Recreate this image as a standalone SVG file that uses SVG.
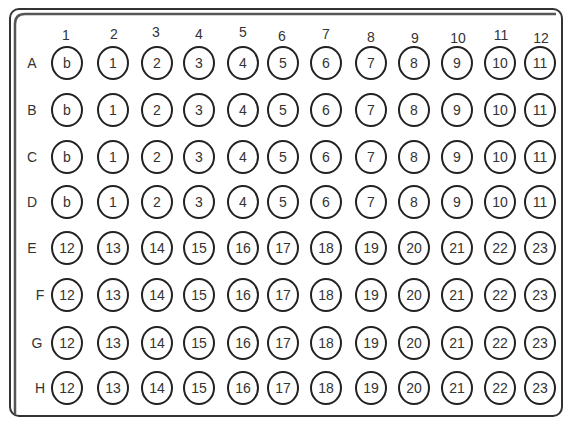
<svg xmlns="http://www.w3.org/2000/svg" width="565" height="421" viewBox="0 0 565 421">
<style>
.w{fill:none;stroke:#222;stroke-width:2}
.t{font-family:"Liberation Sans",Arial,sans-serif;font-size:14px;fill:#333;text-anchor:middle}
.h{font-family:"Liberation Sans",Arial,sans-serif;font-size:14px;fill:#333;text-anchor:middle}
.frame{fill:none;stroke:#333;stroke-width:2}
.frame2{fill:none;stroke:#555;stroke-width:2.5}
</style>
<rect width="565" height="421" fill="#fff"/>
<g id="frame">
<rect class="frame" x="10" y="9" width="552" height="407" rx="9"/>
<path class="frame2" d="M15,414 V24 Q15,14 25,14 H556"/>
</g>
<g id="col-headers">
<text class="h" x="66" y="40">1</text>
<text class="h" x="114" y="39">2</text>
<text class="h" x="156" y="37">3</text>
<text class="h" x="199" y="39">4</text>
<text class="h" x="243" y="37">5</text>
<text class="h" x="282" y="41">6</text>
<text class="h" x="326" y="39">7</text>
<text class="h" x="371" y="42">8</text>
<text class="h" x="415" y="43">9</text>
<text class="h" x="458" y="43">10</text>
<text class="h" x="501" y="40">11</text>
<text class="h" x="541" y="43">12</text>
</g>
<g id="row-headers">
<text class="h" x="32" y="68">A</text>
<text class="h" x="32" y="115">B</text>
<text class="h" x="32" y="162">C</text>
<text class="h" x="32" y="207">D</text>
<text class="h" x="32" y="253">E</text>
<text class="h" x="40" y="300">F</text>
<text class="h" x="37" y="348">G</text>
<text class="h" x="40" y="393">H</text>
</g>
<g id="row-A">
<g id="A1"><ellipse class="w" cx="67" cy="63" rx="15" ry="16"/><text class="t" x="67" y="68">b</text></g>
<g id="A2"><ellipse class="w" cx="113" cy="63" rx="15" ry="16"/><text class="t" x="113" y="68">1</text></g>
<g id="A3"><ellipse class="w" cx="157" cy="63" rx="15" ry="16"/><text class="t" x="157" y="68">2</text></g>
<g id="A4"><ellipse class="w" cx="199" cy="63" rx="15" ry="16"/><text class="t" x="199" y="68">3</text></g>
<g id="A5"><ellipse class="w" cx="243" cy="63" rx="15" ry="16"/><text class="t" x="243" y="68">4</text></g>
<g id="A6"><ellipse class="w" cx="283" cy="63" rx="15" ry="16"/><text class="t" x="283" y="68">5</text></g>
<g id="A7"><ellipse class="w" cx="326" cy="63" rx="15" ry="16"/><text class="t" x="326" y="68">6</text></g>
<g id="A8"><ellipse class="w" cx="371" cy="63" rx="15" ry="16"/><text class="t" x="371" y="68">7</text></g>
<g id="A9"><ellipse class="w" cx="414" cy="63" rx="15" ry="16"/><text class="t" x="414" y="68">8</text></g>
<g id="A10"><ellipse class="w" cx="457" cy="63" rx="15" ry="16"/><text class="t" x="457" y="68">9</text></g>
<g id="A11"><ellipse class="w" cx="500" cy="63" rx="15" ry="16"/><text class="t" x="500" y="68">10</text></g>
<g id="A12"><ellipse class="w" cx="540" cy="63" rx="15" ry="16"/><text class="t" x="540" y="68">11</text></g>
</g>
<g id="row-B">
<g id="B1"><ellipse class="w" cx="67" cy="110" rx="15" ry="16"/><text class="t" x="67" y="115">b</text></g>
<g id="B2"><ellipse class="w" cx="113" cy="110" rx="15" ry="16"/><text class="t" x="113" y="115">1</text></g>
<g id="B3"><ellipse class="w" cx="157" cy="110" rx="15" ry="16"/><text class="t" x="157" y="115">2</text></g>
<g id="B4"><ellipse class="w" cx="199" cy="110" rx="15" ry="16"/><text class="t" x="199" y="115">3</text></g>
<g id="B5"><ellipse class="w" cx="243" cy="110" rx="15" ry="16"/><text class="t" x="243" y="115">4</text></g>
<g id="B6"><ellipse class="w" cx="283" cy="110" rx="15" ry="16"/><text class="t" x="283" y="115">5</text></g>
<g id="B7"><ellipse class="w" cx="326" cy="110" rx="15" ry="16"/><text class="t" x="326" y="115">6</text></g>
<g id="B8"><ellipse class="w" cx="371" cy="110" rx="15" ry="16"/><text class="t" x="371" y="115">7</text></g>
<g id="B9"><ellipse class="w" cx="414" cy="110" rx="15" ry="16"/><text class="t" x="414" y="115">8</text></g>
<g id="B10"><ellipse class="w" cx="457" cy="110" rx="15" ry="16"/><text class="t" x="457" y="115">9</text></g>
<g id="B11"><ellipse class="w" cx="500" cy="110" rx="15" ry="16"/><text class="t" x="500" y="115">10</text></g>
<g id="B12"><ellipse class="w" cx="540" cy="110" rx="15" ry="16"/><text class="t" x="540" y="115">11</text></g>
</g>
<g id="row-C">
<g id="C1"><ellipse class="w" cx="67" cy="157" rx="15" ry="16"/><text class="t" x="67" y="162">b</text></g>
<g id="C2"><ellipse class="w" cx="113" cy="157" rx="15" ry="16"/><text class="t" x="113" y="162">1</text></g>
<g id="C3"><ellipse class="w" cx="157" cy="157" rx="15" ry="16"/><text class="t" x="157" y="162">2</text></g>
<g id="C4"><ellipse class="w" cx="199" cy="157" rx="15" ry="16"/><text class="t" x="199" y="162">3</text></g>
<g id="C5"><ellipse class="w" cx="243" cy="157" rx="15" ry="16"/><text class="t" x="243" y="162">4</text></g>
<g id="C6"><ellipse class="w" cx="283" cy="157" rx="15" ry="16"/><text class="t" x="283" y="162">5</text></g>
<g id="C7"><ellipse class="w" cx="326" cy="157" rx="15" ry="16"/><text class="t" x="326" y="162">6</text></g>
<g id="C8"><ellipse class="w" cx="371" cy="157" rx="15" ry="16"/><text class="t" x="371" y="162">7</text></g>
<g id="C9"><ellipse class="w" cx="414" cy="157" rx="15" ry="16"/><text class="t" x="414" y="162">8</text></g>
<g id="C10"><ellipse class="w" cx="457" cy="157" rx="15" ry="16"/><text class="t" x="457" y="162">9</text></g>
<g id="C11"><ellipse class="w" cx="500" cy="157" rx="15" ry="16"/><text class="t" x="500" y="162">10</text></g>
<g id="C12"><ellipse class="w" cx="540" cy="157" rx="15" ry="16"/><text class="t" x="540" y="162">11</text></g>
</g>
<g id="row-D">
<g id="D1"><ellipse class="w" cx="67" cy="202" rx="15" ry="16"/><text class="t" x="67" y="207">b</text></g>
<g id="D2"><ellipse class="w" cx="113" cy="202" rx="15" ry="16"/><text class="t" x="113" y="207">1</text></g>
<g id="D3"><ellipse class="w" cx="157" cy="202" rx="15" ry="16"/><text class="t" x="157" y="207">2</text></g>
<g id="D4"><ellipse class="w" cx="199" cy="202" rx="15" ry="16"/><text class="t" x="199" y="207">3</text></g>
<g id="D5"><ellipse class="w" cx="243" cy="202" rx="15" ry="16"/><text class="t" x="243" y="207">4</text></g>
<g id="D6"><ellipse class="w" cx="283" cy="202" rx="15" ry="16"/><text class="t" x="283" y="207">5</text></g>
<g id="D7"><ellipse class="w" cx="326" cy="202" rx="15" ry="16"/><text class="t" x="326" y="207">6</text></g>
<g id="D8"><ellipse class="w" cx="371" cy="202" rx="15" ry="16"/><text class="t" x="371" y="207">7</text></g>
<g id="D9"><ellipse class="w" cx="414" cy="202" rx="15" ry="16"/><text class="t" x="414" y="207">8</text></g>
<g id="D10"><ellipse class="w" cx="457" cy="202" rx="15" ry="16"/><text class="t" x="457" y="207">9</text></g>
<g id="D11"><ellipse class="w" cx="500" cy="202" rx="15" ry="16"/><text class="t" x="500" y="207">10</text></g>
<g id="D12"><ellipse class="w" cx="540" cy="202" rx="15" ry="16"/><text class="t" x="540" y="207">11</text></g>
</g>
<g id="row-E">
<g id="E1"><ellipse class="w" cx="67" cy="248" rx="15" ry="16"/><text class="t" x="67" y="253">12</text></g>
<g id="E2"><ellipse class="w" cx="113" cy="248" rx="15" ry="16"/><text class="t" x="113" y="253">13</text></g>
<g id="E3"><ellipse class="w" cx="157" cy="248" rx="15" ry="16"/><text class="t" x="157" y="253">14</text></g>
<g id="E4"><ellipse class="w" cx="199" cy="248" rx="15" ry="16"/><text class="t" x="199" y="253">15</text></g>
<g id="E5"><ellipse class="w" cx="243" cy="248" rx="15" ry="16"/><text class="t" x="243" y="253">16</text></g>
<g id="E6"><ellipse class="w" cx="283" cy="248" rx="15" ry="16"/><text class="t" x="283" y="253">17</text></g>
<g id="E7"><ellipse class="w" cx="326" cy="248" rx="15" ry="16"/><text class="t" x="326" y="253">18</text></g>
<g id="E8"><ellipse class="w" cx="371" cy="248" rx="15" ry="16"/><text class="t" x="371" y="253">19</text></g>
<g id="E9"><ellipse class="w" cx="414" cy="248" rx="15" ry="16"/><text class="t" x="414" y="253">20</text></g>
<g id="E10"><ellipse class="w" cx="457" cy="248" rx="15" ry="16"/><text class="t" x="457" y="253">21</text></g>
<g id="E11"><ellipse class="w" cx="500" cy="248" rx="15" ry="16"/><text class="t" x="500" y="253">22</text></g>
<g id="E12"><ellipse class="w" cx="540" cy="248" rx="15" ry="16"/><text class="t" x="540" y="253">23</text></g>
</g>
<g id="row-F">
<g id="F1"><ellipse class="w" cx="67" cy="295" rx="15" ry="16"/><text class="t" x="67" y="300">12</text></g>
<g id="F2"><ellipse class="w" cx="113" cy="295" rx="15" ry="16"/><text class="t" x="113" y="300">13</text></g>
<g id="F3"><ellipse class="w" cx="157" cy="295" rx="15" ry="16"/><text class="t" x="157" y="300">14</text></g>
<g id="F4"><ellipse class="w" cx="199" cy="295" rx="15" ry="16"/><text class="t" x="199" y="300">15</text></g>
<g id="F5"><ellipse class="w" cx="243" cy="295" rx="15" ry="16"/><text class="t" x="243" y="300">16</text></g>
<g id="F6"><ellipse class="w" cx="283" cy="295" rx="15" ry="16"/><text class="t" x="283" y="300">17</text></g>
<g id="F7"><ellipse class="w" cx="326" cy="295" rx="15" ry="16"/><text class="t" x="326" y="300">18</text></g>
<g id="F8"><ellipse class="w" cx="371" cy="295" rx="15" ry="16"/><text class="t" x="371" y="300">19</text></g>
<g id="F9"><ellipse class="w" cx="414" cy="295" rx="15" ry="16"/><text class="t" x="414" y="300">20</text></g>
<g id="F10"><ellipse class="w" cx="457" cy="295" rx="15" ry="16"/><text class="t" x="457" y="300">21</text></g>
<g id="F11"><ellipse class="w" cx="500" cy="295" rx="15" ry="16"/><text class="t" x="500" y="300">22</text></g>
<g id="F12"><ellipse class="w" cx="540" cy="295" rx="15" ry="16"/><text class="t" x="540" y="300">23</text></g>
</g>
<g id="row-G">
<g id="G1"><ellipse class="w" cx="67" cy="343" rx="15" ry="16"/><text class="t" x="67" y="348">12</text></g>
<g id="G2"><ellipse class="w" cx="113" cy="343" rx="15" ry="16"/><text class="t" x="113" y="348">13</text></g>
<g id="G3"><ellipse class="w" cx="157" cy="343" rx="15" ry="16"/><text class="t" x="157" y="348">14</text></g>
<g id="G4"><ellipse class="w" cx="199" cy="343" rx="15" ry="16"/><text class="t" x="199" y="348">15</text></g>
<g id="G5"><ellipse class="w" cx="243" cy="343" rx="15" ry="16"/><text class="t" x="243" y="348">16</text></g>
<g id="G6"><ellipse class="w" cx="283" cy="343" rx="15" ry="16"/><text class="t" x="283" y="348">17</text></g>
<g id="G7"><ellipse class="w" cx="326" cy="343" rx="15" ry="16"/><text class="t" x="326" y="348">18</text></g>
<g id="G8"><ellipse class="w" cx="371" cy="343" rx="15" ry="16"/><text class="t" x="371" y="348">19</text></g>
<g id="G9"><ellipse class="w" cx="414" cy="343" rx="15" ry="16"/><text class="t" x="414" y="348">20</text></g>
<g id="G10"><ellipse class="w" cx="457" cy="343" rx="15" ry="16"/><text class="t" x="457" y="348">21</text></g>
<g id="G11"><ellipse class="w" cx="500" cy="343" rx="15" ry="16"/><text class="t" x="500" y="348">22</text></g>
<g id="G12"><ellipse class="w" cx="540" cy="343" rx="15" ry="16"/><text class="t" x="540" y="348">23</text></g>
</g>
<g id="row-H">
<g id="H1"><ellipse class="w" cx="67" cy="388" rx="15" ry="16"/><text class="t" x="67" y="393">12</text></g>
<g id="H2"><ellipse class="w" cx="113" cy="388" rx="15" ry="16"/><text class="t" x="113" y="393">13</text></g>
<g id="H3"><ellipse class="w" cx="157" cy="388" rx="15" ry="16"/><text class="t" x="157" y="393">14</text></g>
<g id="H4"><ellipse class="w" cx="199" cy="388" rx="15" ry="16"/><text class="t" x="199" y="393">15</text></g>
<g id="H5"><ellipse class="w" cx="243" cy="388" rx="15" ry="16"/><text class="t" x="243" y="393">16</text></g>
<g id="H6"><ellipse class="w" cx="283" cy="388" rx="15" ry="16"/><text class="t" x="283" y="393">17</text></g>
<g id="H7"><ellipse class="w" cx="326" cy="388" rx="15" ry="16"/><text class="t" x="326" y="393">18</text></g>
<g id="H8"><ellipse class="w" cx="371" cy="388" rx="15" ry="16"/><text class="t" x="371" y="393">19</text></g>
<g id="H9"><ellipse class="w" cx="414" cy="388" rx="15" ry="16"/><text class="t" x="414" y="393">20</text></g>
<g id="H10"><ellipse class="w" cx="457" cy="388" rx="15" ry="16"/><text class="t" x="457" y="393">21</text></g>
<g id="H11"><ellipse class="w" cx="500" cy="388" rx="15" ry="16"/><text class="t" x="500" y="393">22</text></g>
<g id="H12"><ellipse class="w" cx="540" cy="388" rx="15" ry="16"/><text class="t" x="540" y="393">23</text></g>
</g>
</svg>
